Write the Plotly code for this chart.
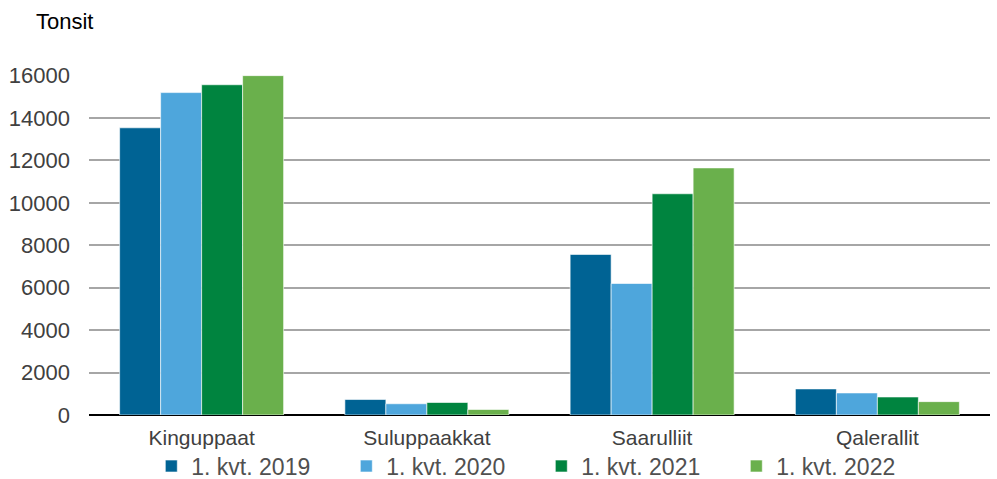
import plotly.graph_objects as go

categories = ["Kinguppaat", "Suluppaakkat", "Saarulliit", "Qalerallit"]
series_names = ["1. kvt. 2019", "1. kvt. 2020", "1. kvt. 2021", "1. kvt. 2022"]
v2019 = [13540, 730, 7570, 1230]
v2020 = [15200, 530, 6200, 1040]
v2021 = [15570, 590, 10430, 850]
v2022 = [16000, 260, 11650, 630]
colors = ["#006394", "#4ea6dc", "#00843f", "#6ab04c"]
y_ticks = [0, 2000, 4000, 6000, 8000, 10000, 12000, 14000, 16000]

fig = go.Figure()
for name, vals, col in zip(series_names, [v2019, v2020, v2021, v2022], colors):
    fig.add_trace(go.Bar(
        x=categories, y=vals, name=name,
        marker=dict(color=col, line=dict(color="rgba(255,255,255,0.6)", width=1)),
    ))

fig.update_layout(
    width=997, height=479,
    barmode="group", bargap=0.272, bargroupgap=0,
    paper_bgcolor="white", plot_bgcolor="white",
    margin=dict(l=89, r=7, t=75, b=64, autoexpand=False),
    font=dict(family="Liberation Sans, Arial, sans-serif", size=21, color="#404040"),
    showlegend=True,
    legend=dict(orientation="h", x=0.502, xanchor="center", yref="container", y=0.027, yanchor="middle",
                bgcolor="rgba(0,0,0,0)",
                font=dict(size=23, color="#505050"), entrywidth=150, entrywidthmode="pixels",
                traceorder="normal"),
    xaxis=dict(showgrid=False, showline=False, ticks="", automargin=False,
               ticklabelstandoff=8, tickfont=dict(size=21, color="#404040")),
    yaxis=dict(range=[0, 16030], tickvals=y_ticks, ticktext=[str(t) for t in y_ticks],
               showgrid=True, gridcolor="#a6a6a6", gridwidth=2, automargin=False,
               zeroline=True, zerolinecolor="#000000", zerolinewidth=2,
               ticks="", ticklabelstandoff=18, tickfont=dict(size=22, color="#404040")),
)
fig.add_annotation(text="Tonsit", xref="paper", yref="paper", x=-0.061, y=1.156,
                   xanchor="left", yanchor="middle", showarrow=False,
                   font=dict(size=22, color="#000000"))

fig.write_html("out.html", config={"displayModeBar": False},
               post_script="document.body.style.margin='0';")
